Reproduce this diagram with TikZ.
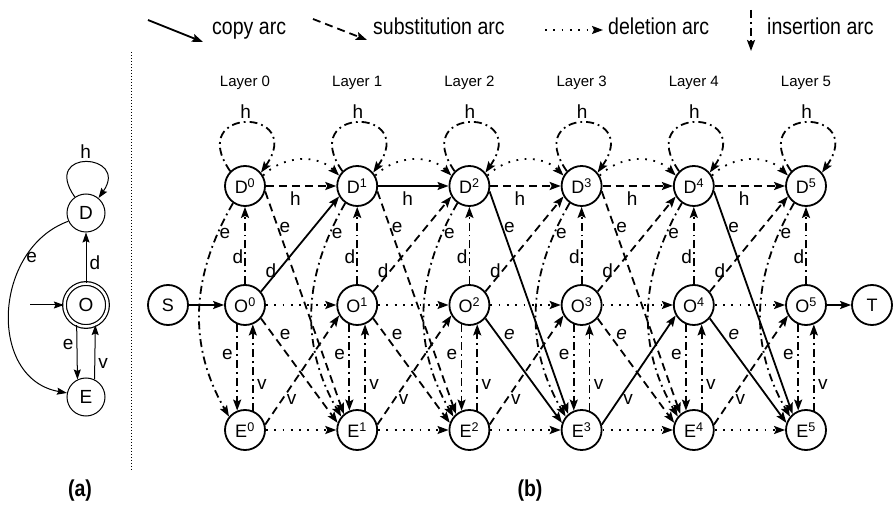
\documentclass[tikz,border=0pt]{standalone}
\usepackage{fontspec}
\setmainfont{Liberation Sans}
\newfontfamily\narrowfont{Liberation Sans}[FakeStretch=0.85]
\usetikzlibrary{arrows.meta}

\tikzset{
  st/.style={circle, draw, line width=1.8pt, minimum size=40pt, inner sep=0pt,
    font=\fontsize{18}{20}\selectfont},
  sta/.style={circle, draw, line width=1pt, minimum size=38pt, inner sep=0pt,
    font=\fontsize{19}{20}\selectfont},
  edg/.style={line width=1.8pt, -{Stealth[length=11pt,width=8pt,inset=2pt]}},
  copyarc/.style={edg},
  subarc/.style={edg, dash pattern=on 8pt off 5pt},
  delarc/.style={edg, dash pattern=on 1.8pt off 6.5pt},
  insarc/.style={edg, dash pattern=on 8pt off 4pt on 1.8pt off 4pt},
  thinarc/.style={line width=1pt, -{Stealth[length=10pt,width=7pt,inset=1.5pt]}},
  lab/.style={font=\fontsize{19}{20}\selectfont, inner sep=1pt},
  labit/.style={lab, font=\fontsize{19}{20}\selectfont\itshape},
  leg/.style={font=\narrowfont\fontsize{23}{24}\selectfont, inner sep=0pt, anchor=base west},
  capfont/.style={font=\narrowfont\bfseries\fontsize{23}{24}\selectfont},
}

\begin{document}
\begin{tikzpicture}[x=1pt,y=1pt]
\useasboundingbox (0,0) rectangle (894,-510);

% legend
\coordinate (lc1) at (148,-20);
\coordinate (lc2) at (203,-42);
\draw[copyarc] (lc1) -- (lc2);
\node[leg] (lct) at (212,-35) {copy arc};
\coordinate (ls1) at (313,-19);
\coordinate (ls2) at (367,-40);
\draw[subarc] (ls1) -- (ls2);
\node[leg] (lst) at (373,-35) {substitution arc};
\coordinate (ld1) at (545,-30);
\coordinate (ld2) at (603,-30);
\draw[delarc] (ld1) -- (ld2);
\node[leg] (ldt) at (608,-35) {deletion arc};
\coordinate (li1) at (751,-10);
\coordinate (li2) at (751,-51);
\draw[insarc] (li1) -- (li2);
\node[leg] (lit) at (767,-35) {insertion arc};

% (a): the small automaton
\node[sta] (Da) at (86,-213) {D};
\node[sta, line width=1.2pt, double, double distance=2.5pt, minimum size=43pt] (Oa) at (86,-305) {O};
\node[sta] (Ea) at (86,-397) {E};
\coordinate (init) at (30,-305);
\draw[thinarc] (init) -- (Oa);
\draw[thinarc] (Oa) -- (Da) node[lab, right=2pt, pos=0.4] {d};
\draw[thinarc] (Oa.245) -- (Ea.116) node[lab, left=2pt, pos=0.35] {e};
\draw[thinarc] (Ea.64) -- (Oa.295) node[lab, right=2pt, pos=0.3] {v};
\draw[thinarc] (Da.125) .. controls +(125:60) and +(55:55) .. (Da.50)
  node[lab, above=2pt, pos=0.5] {h};
\draw[thinarc] (Da.205) to[out=200,in=170,looseness=1.2]
  node[lab, right, pos=0.25] {e} (Ea.168);

% separator
\coordinate (sep1) at (131,-52);
\coordinate (sep2) at (131,-471);
\draw[line width=0.8pt, dash pattern=on 0.8pt off 2.2pt] (sep1) -- (sep2);

\node[capfont] (capa) at (80,-491) {(a)};
\node[capfont] (capb) at (530,-491) {(b)};

% (b): the layered graph
\foreach \i in {0,...,5}{
  \pgfmathsetmacro\x{245+112.2*\i}
  \node[font=\fontsize{15}{16}\selectfont] (L\i) at (\x,-83) {Layer \i};
  \node[st] (D\i) at (\x,-186) {D\textsuperscript{\i}};
  \node[st] (O\i) at (\x,-305) {O\textsuperscript{\i}};
  \node[st] (E\i) at (\x,-430) {E\textsuperscript{\i}};
}
\node[st] (S) at (168,-305) {S};
\node[st] (T) at (872,-305) {T};
\draw[copyarc] (S) -- (O0);
\draw[copyarc] (O5) -- (T);

% arcs inside one layer
\foreach \i in {0,...,5}{
  \draw[insarc] (D\i.135) .. controls +(125:80) and +(55:80) .. (D\i.40)
    node[lab, above=2pt, pos=0.5] {h};
  \draw[insarc] (O\i.north) -- (D\i.south) node[lab, left, pos=0.35] {d};
  \draw[insarc] (O\i.248) -- (E\i.112) node[lab, left=2.5pt, pos=0.35] {e};
  \draw[insarc] (E\i.68) -- (O\i.292) node[lab, right=2.5pt, pos=0.3] {v};
  \draw[insarc] (D\i.235) to[out=240,in=120]
    node[lab, right, pos=0.14] {e} (E\i.140);
}

% arcs from layer i to layer i+1
\foreach \i/\dd/\de/\oe/\eo/\od/\ef in {
    0/subarc/subarc/subarc/subarc/copyarc/lab,
    1/copyarc/subarc/subarc/subarc/subarc/lab,
    2/subarc/copyarc/copyarc/subarc/subarc/labit,
    3/subarc/subarc/subarc/copyarc/subarc/labit,
    4/subarc/copyarc/copyarc/subarc/subarc/labit}{
  \pgfmathtruncatemacro\j{\i+1}
  \draw[\dd] (D\i) -- (D\j) node[lab, below=4pt, pos=0.42] {h};
  \draw[delarc] (D\i.30) to[out=45,in=135] (D\j.150);
  \draw[delarc] (O\i) -- (O\j);
  \draw[delarc] (E\i) -- (E\j);
  \draw[\od] (O\i.40) -- (D\j.210) node[lab, left, pos=0.22] {d};
  \draw[\de] (D\i.-15) -- (E\j.130) node[lab, right, pos=0.16] {e};
  \draw[\oe] (O\i.-40) -- (E\j.160) node[\ef, above right, pos=0.22] {e};
  \draw[\eo] (E\i.15) -- (O\j.210) node[lab, below right, inner sep=0pt, pos=0.28] {v};
}
\end{tikzpicture}
\end{document}
